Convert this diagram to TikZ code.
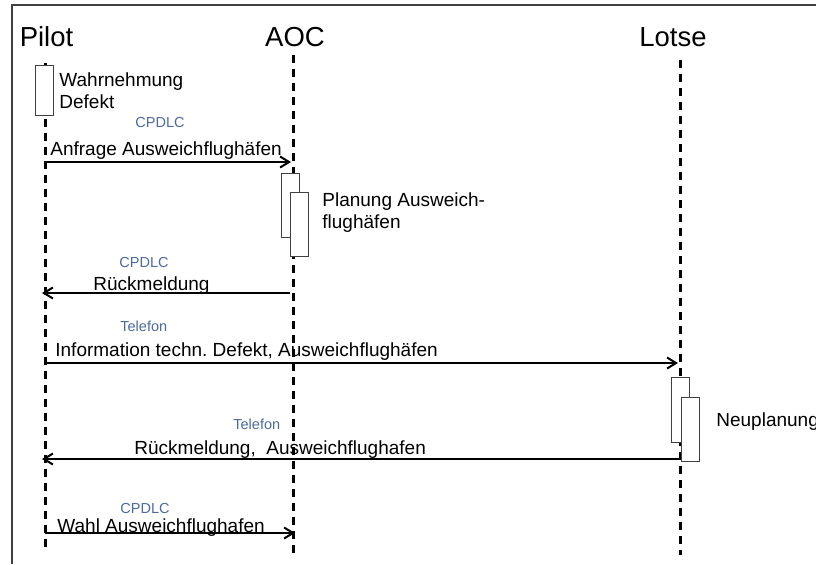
\documentclass[tikz,border=0pt]{standalone}
\usepackage{fontspec}
\setmainfont{Liberation Sans}
\usetikzlibrary{arrows.meta}
\definecolor{channelblue}{RGB}{76,106,158}

\begin{document}
\begin{tikzpicture}[x=0.5pt,y=-0.5pt,
  actor/.style={anchor=base,inner sep=0pt,font=\fontsize{13.75pt}{16pt}\selectfont},
  lifeline/.style={line width=1.5pt,dash pattern=on 4pt off 3pt},
  activity/.style={draw=black!75,fill=white,line width=0.5pt,minimum width=9pt,inner sep=0pt},
  note/.style={anchor=base west,inner sep=0pt,font=\fontsize{9.5pt}{11pt}\selectfont},
  channel/.style={anchor=base west,inner sep=0pt,text=channelblue,font=\fontsize{7.25pt}{9pt}\selectfont},
  message/.style={line width=1pt,-{Straight Barb[length=4.5pt,width=5.5pt]}}]

  \useasboundingbox (0,0) rectangle (816,564);
  \draw[black!75,line width=1pt] (11.5,564) -- (11.5,5) -- (816,5);

  \node[actor] (pilot) at (46.5,46) {Pilot};
  \node[actor] (aoc) at (295,46) {AOC};
  \node[actor] (lotse) at (673,46) {Lotse};

  \coordinate (pilot top) at (45,63);
  \coordinate (pilot end) at (45,547);
  \coordinate (aoc top) at (293,55);
  \coordinate (aoc end) at (293,555);
  \coordinate (lotse top) at (680,60);
  \coordinate (lotse end) at (680,555);
  \draw[lifeline] (pilot top) -- (pilot end);
  \draw[lifeline] (aoc top) -- (aoc end);
  \draw[lifeline] (lotse top) -- (lotse end);

  \node[activity,minimum height=25pt] (pilot act) at (44,90) {};
  \node[note] (percept a) at (59,86) {Wahrnehmung};
  \node[note] (percept b) at (59,108) {Defekt};

  \node[activity,minimum height=32pt] (aoc act1) at (290,205) {};
  \node[activity,minimum height=32pt] (aoc act2) at (299.5,224) {};
  \node[note] (plan a) at (322,206) {Planung Ausweich-};
  \node[note] (plan b) at (322,228) {flughäfen};

  \node[activity,minimum height=32.5pt] (lotse act1) at (680.5,409.5) {};
  \node[activity,minimum height=32pt] (lotse act2) at (690,429) {};
  \node[note] (replan) at (716,426) {Neuplanung};

  % Nachrichten
  \coordinate (m1 from) at (45,162);
  \coordinate (m1 to) at (291,162);
  \coordinate (m2 from) at (290,293);
  \coordinate (m2 to) at (42,293);
  \coordinate (m3 from) at (45,363);
  \coordinate (m3 to) at (678,363);
  \coordinate (m4 from) at (681,459);
  \coordinate (m4 to) at (42,459);
  \coordinate (m5 from) at (45,533);
  \coordinate (m5 to) at (295,533);

  \draw[message] (m1 from) -- (m1 to);
  \draw[message] (m2 from) -- (m2 to);
  \draw[message] (m3 from) -- (m3 to);
  \draw[message] (m4 from) -- (m4 to);
  \draw[message] (m5 from) -- (m5 to);

  \node[channel] (via1) at (135,127) {CPDLC};
  \node[note] (req) at (50,155) {Anfrage Ausweichflughäfen};
  \node[channel] (via2) at (119,267) {CPDLC};
  \node[note] (ack) at (93,290) {Rückmeldung};
  \node[channel] (via3) at (120,331) {Telefon};
  \node[note] (info) at (55,356) {Information techn.\ Defekt, Ausweichflughäfen};
  \node[channel] (via4) at (233,429) {Telefon};
  \node[note] (reply) at (134,454) {Rückmeldung,\ \ Ausweichflughafen};
  \node[channel] (via5) at (120,513) {CPDLC};
  \node[note] (choice) at (57,532) {Wahl Ausweichflughafen};
\end{tikzpicture}
\end{document}
